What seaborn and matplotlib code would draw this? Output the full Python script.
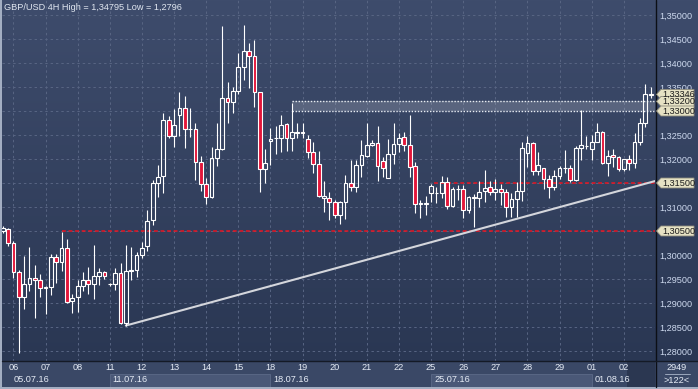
import numpy as np
import pandas as pd
import matplotlib
matplotlib.use("Agg")
import matplotlib.pyplot as plt
import seaborn as sns
from matplotlib.patches import Rectangle, Polygon
from matplotlib.colors import LinearSegmentedColormap
from matplotlib.lines import Line2D

# ---------------- data ----------------
candle_idx = list(range(-2, 120))
opens = [1.3050, 1.3054, 1.3024, 1.2964, 1.2913, 1.2939, 1.2952, 1.2947, 1.2932, 1.2934,
         1.2995, 1.2985, 1.3014, 1.2904, 1.2912, 1.2936, 1.2947, 1.2939, 1.2956, 1.2964,
         1.2939, 1.2939, 1.2962, 1.2858, 1.2967, 1.2968, 1.2999, 1.3018, 1.3072, 1.3151,
         1.3165, 1.3281, 1.3247, 1.3292, 1.3306, 1.3262, 1.3262, 1.3193, 1.3147, 1.3120,
         1.3202, 1.3220, 1.3327, 1.3319, 1.3342, 1.3391, 1.3425, 1.3415, 1.3339, 1.3179,
         1.3238, 1.3243, 1.3243, 1.3272, 1.3243, 1.3255, 1.3256, 1.3241, 1.3215, 1.3190,
         1.3118, 1.3118, 1.3110, 1.3084, 1.3110, 1.3149, 1.3141, 1.3188, 1.3207, 1.3229,
         1.3234, 1.3196, 1.3161, 1.3210, 1.3231, 1.3245, 1.3229, 1.3186, 1.3107, 1.3107,
         1.3129, 1.3129, 1.3130, 1.3153, 1.3102, 1.3137, 1.3138, 1.3093, 1.3120, 1.3118,
         1.3133, 1.3141, 1.3131, 1.3137, 1.3131, 1.3101, 1.3116, 1.3133, 1.3212, 1.3233,
         1.3175, 1.3181, 1.3158, 1.3142, 1.3165, 1.3181, 1.3181, 1.3156, 1.3222, 1.3227,
         1.3220, 1.3236, 1.3256, 1.3191, 1.3208, 1.3204, 1.3179, 1.3199, 1.3191, 1.3236,
         1.3274, 1.3336]
highs = [1.3060, 1.3056, 1.3029, 1.2969, 1.2998, 1.3016, 1.2979, 1.2960, 1.2935, 1.3002,
         1.3002, 1.3047, 1.3033, 1.2919, 1.2947, 1.2964, 1.2974, 1.3021, 1.2972, 1.2967,
         1.2942, 1.2972, 1.2983, 1.3021, 1.3016, 1.3006, 1.3027, 1.3093, 1.3156, 1.3188,
         1.3295, 1.3290, 1.3304, 1.3339, 1.3331, 1.3306, 1.3274, 1.3206, 1.3160, 1.3224,
         1.3276, 1.3477, 1.3361, 1.3351, 1.3420, 1.34795, 1.3442, 1.3448, 1.3340, 1.3220,
         1.3265, 1.3269, 1.3292, 1.3276, 1.3317, 1.3276, 1.3274, 1.3249, 1.3236, 1.3217,
         1.3154, 1.3132, 1.3115, 1.3113, 1.3167, 1.3198, 1.3197, 1.3240, 1.3276, 1.3240,
         1.3269, 1.3205, 1.3241, 1.3274, 1.3254, 1.3257, 1.3292, 1.3194, 1.3115, 1.3122,
         1.3148, 1.3141, 1.3165, 1.3162, 1.3142, 1.3146, 1.3146, 1.3123, 1.3128, 1.3155,
         1.3177, 1.3154, 1.3159, 1.3148, 1.3137, 1.3129, 1.3153, 1.3236, 1.3248, 1.3235,
         1.3215, 1.3181, 1.3167, 1.3177, 1.3185, 1.3219, 1.3188, 1.3227, 1.3302, 1.3247,
         1.3250, 1.3274, 1.3259, 1.3219, 1.3220, 1.3206, 1.3200, 1.3208, 1.3254, 1.3285,
         1.3356, 1.3349]
lows = [1.3046, 1.3019, 1.2952, 1.2796, 1.2888, 1.2924, 1.2868, 1.2912, 1.2877, 1.2917,
        1.2942, 1.2967, 1.2899, 1.2880, 1.2882, 1.2924, 1.2919, 1.2909, 1.2938, 1.2949,
        1.2935, 1.2927, 1.2856, 1.2852, 1.2947, 1.2955, 1.2994, 1.3009, 1.3063, 1.3120,
        1.3130, 1.3244, 1.3224, 1.3247, 1.3222, 1.3245, 1.3156, 1.3134, 1.3106, 1.3119,
        1.3186, 1.3219, 1.3276, 1.3295, 1.3335, 1.3365, 1.3347, 1.3309, 1.3132, 1.3151,
        1.3188, 1.3210, 1.3215, 1.3217, 1.3217, 1.3243, 1.3243, 1.3202, 1.3171, 1.3121,
        1.3089, 1.3073, 1.3078, 1.3064, 1.3075, 1.3133, 1.3132, 1.3162, 1.3205, 1.3227,
        1.3155, 1.3163, 1.3160, 1.3190, 1.3215, 1.3217, 1.3163, 1.3087, 1.3078, 1.3083,
        1.3111, 1.3109, 1.3118, 1.3095, 1.3099, 1.3115, 1.3077, 1.3088, 1.3059, 1.3101,
        1.3111, 1.3126, 1.3115, 1.3104, 1.3079, 1.3079, 1.3080, 1.3112, 1.3184, 1.3167,
        1.3167, 1.3137, 1.3118, 1.3135, 1.3158, 1.3170, 1.3153, 1.3154, 1.3198, 1.3220,
        1.3198, 1.3235, 1.3189, 1.3165, 1.3183, 1.3174, 1.3174, 1.3177, 1.3181, 1.3229,
        1.3267, 1.3327]
closes = [1.3056, 1.3024, 1.2964, 1.2913, 1.2939, 1.2952, 1.2947, 1.2932, 1.2934, 1.2995,
          1.2985, 1.3014, 1.2903, 1.2910, 1.2936, 1.2947, 1.2939, 1.2956, 1.2964, 1.2956,
          1.2940, 1.2962, 1.2858, 1.2967, 1.2968, 1.2999, 1.3014, 1.3071, 1.3151, 1.3162,
          1.3281, 1.3247, 1.3271, 1.3306, 1.3262, 1.3263, 1.3193, 1.3147, 1.3120, 1.3202,
          1.3220, 1.3327, 1.3318, 1.3342, 1.3391, 1.3425, 1.3415, 1.3339, 1.3179, 1.3191,
          1.3242, 1.3244, 1.3271, 1.3243, 1.3257, 1.3256, 1.3255, 1.3215, 1.3190, 1.3122,
          1.3123, 1.3110, 1.3084, 1.3110, 1.3149, 1.3141, 1.3188, 1.3208, 1.3229, 1.3234,
          1.3185, 1.3182, 1.3210, 1.3231, 1.3243, 1.3229, 1.3184, 1.3106, 1.3108, 1.3108,
          1.3143, 1.3130, 1.3153, 1.3102, 1.3137, 1.3138, 1.3093, 1.3120, 1.3119, 1.3132,
          1.3139, 1.3131, 1.3137, 1.3131, 1.3101, 1.3116, 1.3133, 1.3222, 1.3233, 1.3175,
          1.3188, 1.3158, 1.3142, 1.3165, 1.3181, 1.3182, 1.3156, 1.3222, 1.3229, 1.3228,
          1.3236, 1.3256, 1.3191, 1.3207, 1.3205, 1.3179, 1.3199, 1.3191, 1.3236, 1.3274,
          1.3335, 1.3333]

day_labels = ["06", "07", "08", "11", "12", "13", "14", "15", "18", "19",
              "20", "21", "22", "25", "26", "27", "28", "29", "01", "02"]
week_labels = ["05.07.16", "11.07.16", "18.07.16", "25.07.16", "01.08.16"]
week_start_day = [-1, 3, 8, 13, 18]          # position in day_labels (-1: before view)
price_ticks = [1.280, 1.285, 1.290, 1.295, 1.300, 1.305, 1.310, 1.315,
               1.320, 1.325, 1.330, 1.335, 1.340, 1.345, 1.350]
support_levels = [1.3050, 1.3150]
support_start = [9, 78.6]
zone_low, zone_high, zone_start = 1.3300, 1.3320, 52
trend_x = [21, 119.8]
trend_y = [1.2853, 1.3154]
marker_prices = [1.33346, 1.3320, 1.3300, 1.3150, 1.3050]
title = "GBP/USD 4H High = 1,34795 Low = 1,2796"
bar_count, bars_visible = "2949", ">122<"

# ---------------- style ----------------
sns.set_theme(style="dark")
plt.rcParams['font.family'] = ['Liberation Sans', 'DejaVu Sans']

W, H = 698, 389
fig = plt.figure(figsize=(W / 100, H / 100), dpi=100)
fig.patch.set_facecolor('#a3aec2')


def frect(x0, y0, x1, y1):
    return [x0 / W, 1 - y1 / H, (x1 - x0) / W, (y1 - y0) / H]


def fmt(p):
    return f"{p:.5f}".replace('.', ',')


PX0, PX1, PY1 = 2, 655, 361
# background gradient (plot + right price panel)
bg = fig.add_axes(frect(PX0, 0, W, PY1))
bg.axis('off')
cmap = LinearSegmentedColormap.from_list('bgc', ['#3e4c6c', '#2a3753'])
bg.imshow(np.linspace(0, 1, 256).reshape(-1, 1), aspect='auto', cmap=cmap,
          extent=[0, 1, 0, 1], origin='upper')

ax = fig.add_axes(frect(PX0, 0, PX1, PY1))
ax.patch.set_alpha(0)
xlim = ((PX0 - 13.4) / 5.355, (PX1 - 13.4) / 5.355)
ylim = (1.353125 - PY1 / 4800, 1.353125)

# grid
grid_c = '#586583'
for p in price_ticks:
    ax.axhline(p, color=grid_c, lw=0.7, ls=(0, (2.5, 3)), zorder=1)
for d in range(len(day_labels)):
    ax.axvline(d * 6, color=grid_c, lw=0.7, ls=(0, (2.5, 3)), zorder=1)

# resistance zone
ax.fill_between([zone_start, xlim[1]], zone_low, zone_high, color='white', alpha=0.17, lw=0, zorder=2)
for p in (zone_low, zone_high):
    ax.hlines(p, zone_start, xlim[1], color='#e8ecf2', lw=1.0, ls=(0, (1, 1.2)), zorder=2)

# support lines
for p, s in zip(support_levels, support_start):
    ax.hlines(p, s, xlim[1], color='#ea1420', lw=1.1, ls=(0, (2.5, 1.8)), zorder=2)

# trend line
sns.lineplot(x=trend_x, y=trend_y, ax=ax, color='#d4d6dc', linewidth=1.5, zorder=3, legend=False)

# candles
df = pd.DataFrame(dict(idx=candle_idx, o=opens, h=highs, l=lows, c=closes))
df['bull'] = df.c >= df.o
df['top'] = df[['o', 'c']].max(axis=1)
df['bot'] = df[['o', 'c']].min(axis=1)
df['body'] = (df.top - df.bot).clip(lower=0.00004)
ax.vlines(df.idx, df.top, df.h, color='white', lw=0.8, zorder=4)
ax.vlines(df.idx, df.l, df.bot, color='white', lw=0.8, zorder=4)
ax.bar(df.idx, df.body, bottom=df.bot, width=0.7,
       color=np.where(df.bull, 'none', '#e3163a'), edgecolor='white', linewidth=0.8, zorder=5)

ax.set_xlim(*xlim)
ax.set_ylim(*ylim)
ax.set_xticks([])
ax.set_yticks(price_ticks)
# levels that carry a marker box show their value in the box instead
ax.set_yticklabels(['' if any(abs(t - m) < 1e-6 for m in marker_prices) else fmt(t)
                    for t in price_ticks])
ax.yaxis.tick_right()
ax.tick_params(axis='y', length=0, pad=3, labelsize=6.6, labelcolor='#cdd9ee')
ax.set_xlabel('')
ax.set_ylabel('')
for s in ax.spines.values():
    s.set_visible(False)

# title
fig.text(4 / W, 1 - 8 / H, title, fontsize=6.6, color='#e0e6f0', va='center', ha='left')

# bottom time panel
bax = fig.add_axes(frect(PX0, PY1, PX1, 387))
bax.set_xlim(*xlim)
bax.set_ylim(26, 0)
bax.set_facecolor('#3a4866')
bax.set_xticks([])
bax.set_yticks([])
for s in bax.spines.values():
    s.set_visible(False)
for k, (lab, dstart) in enumerate(zip(week_labels, week_start_day)):
    if k % 2 == 1:
        x0 = dstart * 6
        x1 = week_start_day[k + 1] * 6 if k + 1 < len(week_start_day) else xlim[1]
        bax.add_patch(Rectangle((x0, 13), x1 - x0, 13, fc='#4a5877', ec='#5c6a88', lw=0.6))
for d, lab in enumerate(day_labels):
    bax.text(d * 6, 6.5, lab, ha='center', va='center', fontsize=6.6, color='#e6ecf6')
for lab, dstart in zip(week_labels, week_start_day):
    xs = max(dstart * 6, xlim[0] + 1.6) + 0.56
    bax.text(xs, 19, lab, ha='left', va='center', fontsize=6.6, color='#e6ecf6')
bax.add_patch(Rectangle((114.6, 0), xlim[1] - 114.6, 26, fc='#1f2940', alpha=0.55, lw=0))

# bottom right panel
rax = fig.add_axes(frect(PX1, PY1, W, 387))
rax.set_facecolor('#3a4866')
rax.set_xlim(0, 1)
rax.set_ylim(26, 0)
rax.set_xticks([])
rax.set_yticks([])
for s in rax.spines.values():
    s.set_visible(False)
rax.text(0.5, 6, bar_count, ha='center', va='center', fontsize=6.6, color='#e6ecf6')
rax.text(0.5, 19.5, bars_visible, ha='center', va='center', fontsize=6.6, color='#e6ecf6')
rax.plot([0.23, 0.82], [13, 13], color='#9aa6bc', lw=0.7)

# separators
fig.add_artist(Line2D([(PX1 + 0.5) / W] * 2, [1 - 387 / H, 1], color='#0c0f16', lw=1.0,
                      transform=fig.transFigure))
fig.add_artist(Line2D([PX0 / W, 1], [1 - PY1 / H] * 2, color='#141a26', lw=1.0,
                      transform=fig.transFigure))

# price marker boxes on right scale
for p in marker_prices:
    yd = ax.transData.transform((0, p))[1]
    pts = [(656.5, yd), (661, yd + 5), (694, yd + 5), (694, yd - 5), (661, yd - 5)]
    ptsf = [(px / W, py / H) for px, py in pts]
    fig.add_artist(Polygon(ptsf, closed=True, transform=fig.transFigure,
                           fc='#e6e2c4', ec='#8c8a7c', lw=0.6, zorder=5))
    fig.text(662 / W, yd / H, fmt(p), fontsize=6.6,
             color='#1c1c1c', va='center', ha='left', zorder=6)

fig.savefig('out.png', dpi=100)
